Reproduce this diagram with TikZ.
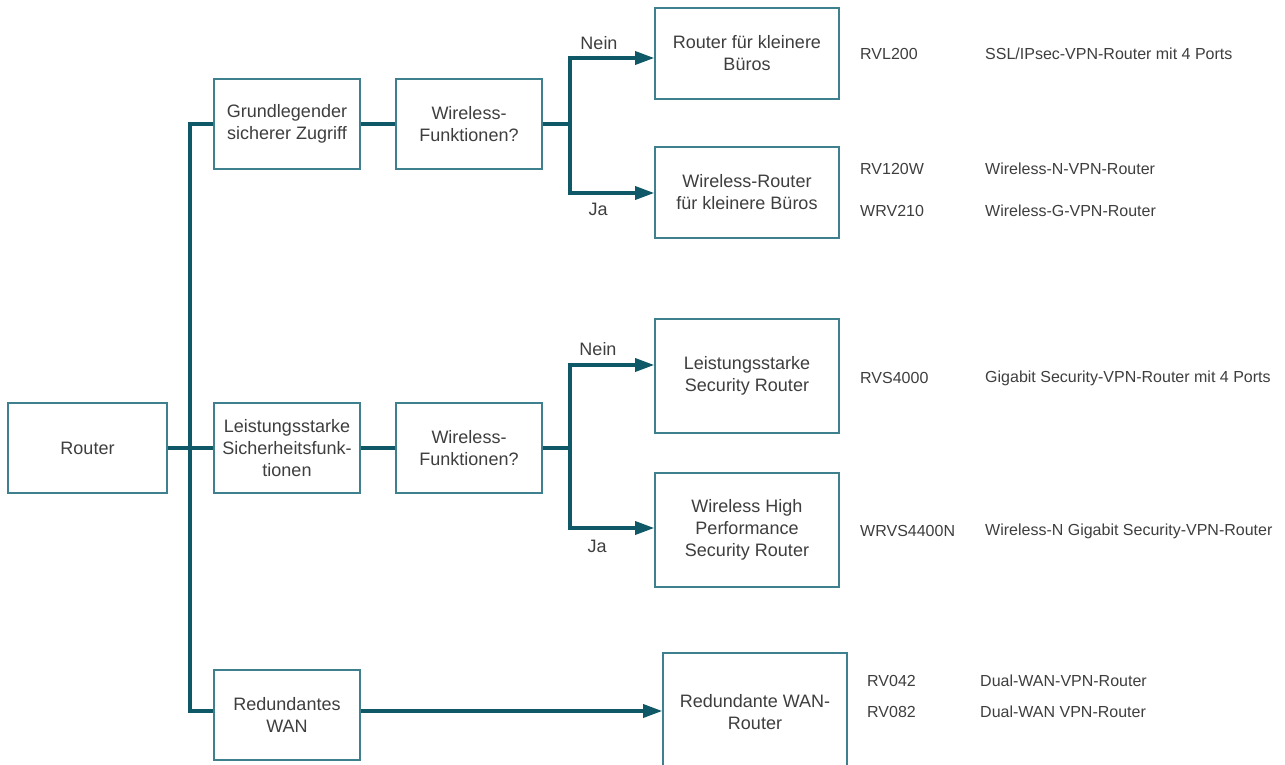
\documentclass[tikz,border=0pt]{standalone}
\usepackage{fontspec}
\setmainfont{Liberation Sans}
\usetikzlibrary{arrows.meta,calc}
\definecolor{linec}{HTML}{0F5868}
\definecolor{boxc}{HTML}{3F808E}
\definecolor{txtc}{HTML}{3E3E3E}
\tikzset{
  box/.style={draw=boxc, line width=1.6pt, fill=white, text=txtc, align=center,
    font=\fontsize{18}{22}\selectfont, inner sep=2pt},
  conn/.style={draw=linec, line width=3.3pt},
  arr/.style={conn, -{Triangle[length=19pt,width=13pt]}},
  lbl/.style={text=txtc, font=\fontsize{18}{22}\selectfont, inner sep=0pt},
  info/.style={text=txtc, font=\fontsize{16}{19}\selectfont, anchor=west, inner sep=0pt},
}
\begin{document}
\begin{tikzpicture}[x=1pt,y=-1pt]
\useasboundingbox (0,0) rectangle (1285,764);
\clip (0,0) rectangle (1285,764);

% left column
\node[box, minimum width=159pt, minimum height=90pt] (router) at (87.5,448) {Router};
\node[box, minimum width=146pt, minimum height=90pt] (g1) at (287,124) {Grundlegender\\sicherer Zugriff};
\node[box, minimum width=146pt, minimum height=90pt] (g2) at (287,448) {Leistungsstarke\\Sicherheitsfunk-\\tionen};
\node[box, minimum width=146pt, minimum height=90pt] (g3) at (287,715) {Redundantes\\WAN};

% question boxes
\node[box, minimum width=146pt, minimum height=90pt] (w1) at (469,124) {Wireless-\\Funktionen?};
\node[box, minimum width=146pt, minimum height=90pt] (w2) at (469,448) {Wireless-\\Funktionen?};

% result boxes
\node[box, minimum width=184pt, minimum height=91pt] (r1) at (747,53.5) {Router für kleinere\\Büros};
\node[box, minimum width=184pt, minimum height=91pt] (r2) at (747,192.5) {Wireless-Router\\für kleinere Büros};
\node[box, minimum width=184pt, minimum height=114pt] (r3) at (747,376) {Leistungsstarke\\Security Router};
\node[box, minimum width=184pt, minimum height=114pt] (r4) at (747,530) {Wireless High\\Performance\\Security Router};
\node[box, minimum width=184pt, minimum height=118pt] (r5) at (755,712) {Redundante WAN-\\Router};

% fork points
\coordinate (vtop) at (190,124);
\coordinate (vbot) at (190,711);
\coordinate (f1) at (570,124);
\coordinate (f2) at (570,448);

% connectors
\draw[conn] (router.east) -- (g2.west);
\draw[conn] (g1.west) -- (vtop) -- (vbot) -- (vbot -| g3.west);
\draw[conn] (g1.east) -- (w1.west);
\draw[conn] (g2.east) -- (w2.west);
\draw[conn] (w1.east) -- (f1);
\draw[conn] (w2.east) -- (f2);
\draw[arr] (f1) |- ($(r1.west)+(0,4.5)$);
\draw[arr] (f1) |- ($(r2.west)+(0,0.5)$);
\draw[arr] (f2) |- ($(r3.west)+(0,-11)$);
\draw[arr] (f2) |- ($(r4.west)+(0,-2)$);
\draw[arr] (vbot -| g3.east) -- (vbot -| r5.west);

% branch labels
\node[lbl] (n1) at (599,43) {Nein};
\node[lbl] (j1) at (598,209) {Ja};
\node[lbl] (n2) at (598,349) {Nein};
\node[lbl] (j2) at (597,546) {Ja};

% product info
\node[info] (m1) at (860,54) {RVL200};
\node[info] (d1) at (985,54) {SSL/IPsec-VPN-Router mit 4 Ports};
\node[info] (m2) at (860,169) {RV120W};
\node[info] (d2) at (985,169) {Wireless-N-VPN-Router};
\node[info] (m3) at (860,211) {WRV210};
\node[info] (d3) at (985,211) {Wireless-G-VPN-Router};
\node[info] (m4) at (860,378) {RVS4000};
\node[info] (d4) at (985,378) {Gigabit Security-VPN-Router mit 4 Ports};
\node[info] (m5) at (860,531) {WRVS4400N};
\node[info] (d5) at (985,531) {Wireless-N Gigabit Security-VPN-Router};
\node[info] (m6) at (867,681) {RV042};
\node[info] (d6) at (980,681) {Dual-WAN-VPN-Router};
\node[info] (m7) at (867,712) {RV082};
\node[info] (d7) at (980,712) {Dual-WAN VPN-Router};
\end{tikzpicture}
\end{document}
